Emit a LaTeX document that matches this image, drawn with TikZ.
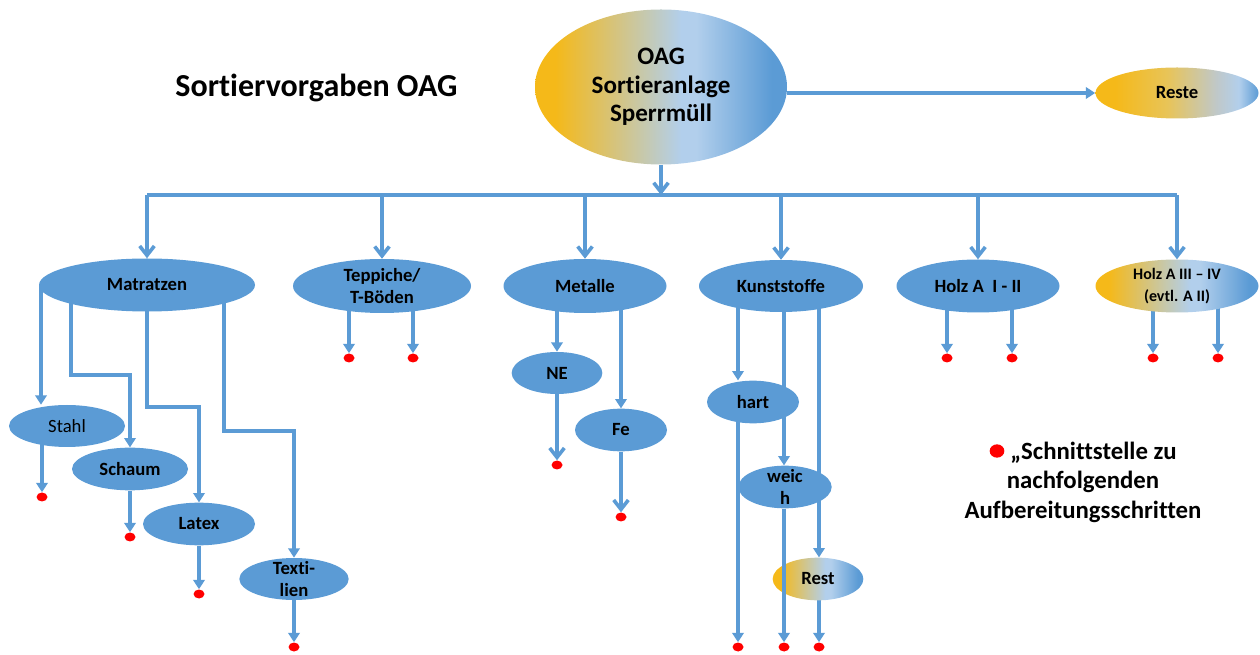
\documentclass[tikz,border=0pt]{standalone}
\usepackage{fontspec}
\setmainfont{Carlito}[Ligatures=NoCommon]
\usetikzlibrary{shapes.geometric,arrows.meta,backgrounds}
\definecolor{cblue}{RGB}{91,155,213}
\definecolor{cgold}{RGB}{245,185,25}
\definecolor{clight}{RGB}{178,207,236}
\definecolor{cmid}{RGB}{232,196,88}
\definecolor{cgray}{RGB}{192,200,200}
\pgfdeclarehorizontalshading{gradA}{100bp}{color(0bp)=(cgold); color(29bp)=(cgold); color(54bp)=(clight); color(57bp)=(clight); color(72bp)=(cblue); color(100bp)=(cblue)}
\pgfdeclarehorizontalshading{gradB}{100bp}{color(0bp)=(cgold); color(31bp)=(cgold); color(47bp)=(cmid); color(62bp)=(cgray); color(69bp)=(clight); color(75bp)=(cblue); color(100bp)=(cblue)}
\tikzset{
  ell/.style={ellipse, fill=cblue, inner xsep=0pt, inner ysep=-6pt, align=center,
    font=\fontsize{14pt}{16.3pt}\selectfont\bfseries},
  gell/.style={ell, fill=none, shade, shading=gradA},
  reddot/.style={ellipse, fill=red, minimum width=8.25pt, minimum height=6.75pt, inner sep=0pt},
  conn/.style={draw=cblue, line width=2.7pt},
  chev/.style={conn, -{Straight Barb[length=7pt,width=11pt]}},
  tri/.style={conn, -{Triangle[length=7pt,width=8.5pt]}},
}
\begin{document}
\begin{tikzpicture}[x=0.75pt,y=-0.75pt]
\useasboundingbox (0,0) rectangle (1260,655);

% title
\node[anchor=base, font=\fontsize{24pt}{28pt}\selectfont\bfseries] (title) at (316.5,97) {Sortiervorgaben OAG};

% main nodes
\node[gell, minimum width=189pt, minimum height=116.25pt, font=\fontsize{18.8pt}{21.4pt}\selectfont\bfseries] (main) at (661,87) {OAG\\Sortieranlage\\Sperrmüll};
\node[ell, fill=none, shade, shading=gradB, minimum width=122.25pt, minimum height=38.25pt] (reste) at (1177,93) {Reste};

% second row
\node[ell, minimum width=162pt, minimum height=39.75pt] (mat) at (147,285) {Matratzen};
\node[ell, minimum width=133.5pt, minimum height=40.5pt] (tep) at (382,286) {Teppiche/\\T-Böden};
\node[ell, minimum width=122.25pt, minimum height=40.5pt] (met) at (585,286) {Metalle};
\node[ell, minimum width=123pt, minimum height=39pt] (kun) at (781,286) {Kunststoffe};
\node[ell, minimum width=122.25pt, minimum height=39.75pt] (holza) at (978,286) {Holz A~ I - II};
\node[gell, minimum width=122.25pt, minimum height=39.75pt, font=\fontsize{12pt}{16.3pt}\selectfont\bfseries] (holzb) at (1177,286) {Holz A III – IV\\(evtl. A II)};

% Matratzen children
\node[ell, minimum width=87pt, minimum height=31.5pt, font=\fontsize{14pt}{16.3pt}\selectfont] (stahl) at (67,426) {Stahl};
\node[ell, minimum width=87pt, minimum height=32pt] (schaum) at (130,469) {Schaum};
\node[ell, minimum width=84pt, minimum height=32pt] (latex) at (199,524) {Latex};
\node[ell, minimum width=82pt, minimum height=31.5pt] (texti) at (294,579) {Texti-\\lien};

% Metalle children
\node[ell, minimum width=68pt, minimum height=31.5pt] (ne) at (557,373) {NE};
\node[ell, minimum width=69pt, minimum height=32pt] (fe) at (621,430) {Fe};

% Kunststoffe children
\node[ell, minimum width=69pt, minimum height=32pt] (hart) at (753,402) {hart};
\node[ell, minimum width=70pt, minimum height=32pt] (weich) at (785,487) {weic\\h};
\node[gell, minimum width=68pt, minimum height=32pt] (rest) at (818,579) {Rest};

% red dots
\node[reddot] (sd) at (42,497) {};
\node[reddot] (scd) at (130,537) {};
\node[reddot] (ld) at (199,594) {};
\node[reddot] (txd) at (294,647) {};
\node[reddot] (td1) at (349,358) {};
\node[reddot] (td2) at (413,358) {};
\node[reddot] (ned) at (557,465) {};
\node[reddot] (fed) at (621,517) {};
\node[reddot] (kd1) at (738,647) {};
\node[reddot] (kd2) at (784,647) {};
\node[reddot] (kd3) at (819,647) {};
\node[reddot] (hd1) at (947,358) {};
\node[reddot] (hd2) at (1012,358) {};
\node[reddot] (hd3) at (1153,358) {};
\node[reddot] (hd4) at (1218,358) {};

% legend
\node[reddot, minimum width=11pt, minimum height=10pt] (legdot) at (997,451) {};
\node[align=center, font=\fontsize{18.6pt}{22.1pt}\selectfont\bfseries] (legend) at (1083,482) {\hspace*{15.75pt}„Schnittstelle zu\\nachfolgenden\\Aufbereitungsschritten};

% coordinates
\coordinate (busy) at (0,195);
\coordinate (m1) at (41,0);
\coordinate (m2) at (71,375);
\coordinate (m3) at (147,407);
\coordinate (m4) at (224,431);

% top connectors
\draw[tri] (main.east |- reste) -- (reste);
\draw[chev] (main.south) -- (main.south |- busy);
\draw[conn] (mat.north |- busy) -- (holzb.north |- busy);
\foreach \n in {mat,tep,met,kun,holza,holzb}
  \draw[chev] (\n.north |- busy) -- (\n.north);

\begin{pgfonlayer}{background}
% Matratzen
\draw[tri] (m1 |- mat) -- (m1 |- stahl.north);
\draw[tri] (m2 |- mat) -- (m2) -| (schaum.north);
\draw[tri] (m3 |- mat) -- (m3) -| (latex.north);
\draw[tri] (m4 |- mat) -- (m4) -| (texti.north);
\draw[tri] (stahl -| sd) -- (sd);
\draw[tri] (schaum) -- (scd);
\draw[tri] (latex) -- (ld);
\draw[tri] (texti) -- (txd);

% Teppiche
\draw[tri] (tep -| td1) -- (td1);
\draw[tri] (tep -| td2) -- (td2);

% Metalle
\draw[tri] (met -| ne) -- (ne);
\draw[tri] (met -| fe) -- (fe);
\draw[chev] (ne) -- (ned);
\draw[chev] (fe) -- (fed);

% Kunststoffe
\draw[tri] (kun -| kd1) -- (hart.north -| kd1);
\draw[tri] (hart -| kd1) -- (kd1);
\draw[tri] (kun -| kd2) -- (weich.north -| kd2);
\draw[tri] (kun -| kd3) -- (rest.north -| kd3);
\draw[tri] (rest -| kd3) -- (kd3);

% Holz
\draw[tri] (holza -| hd1) -- (hd1);
\draw[tri] (holza -| hd2) -- (hd2);
\draw[tri] (holzb -| hd3) -- (hd3);
\draw[tri] (holzb -| hd4) -- (hd4);
\end{pgfonlayer}

% this one passes over the Rest ellipse
\draw[tri] (weich.south -| kd2) -- (kd2);
\end{tikzpicture}
\end{document}
